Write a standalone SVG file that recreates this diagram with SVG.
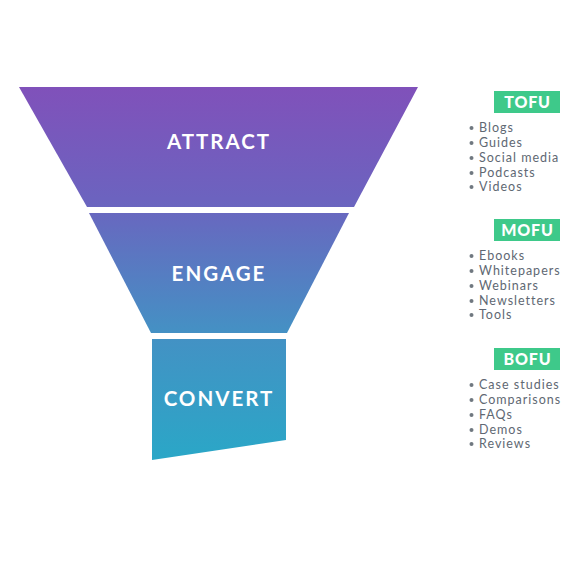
<svg xmlns="http://www.w3.org/2000/svg" width="580" height="579" viewBox="0 0 580 579">
<defs>
<linearGradient id="g" gradientUnits="userSpaceOnUse" x1="0" y1="87" x2="0" y2="460">
<stop offset="0" stop-color="#8051ba"/>
<stop offset="0.3" stop-color="#6c63bf"/>
<stop offset="0.65" stop-color="#4590c4"/>
<stop offset="1" stop-color="#2aa7c7"/>
</linearGradient>
<style>
.stage{fill:url(#g)}
.st{font-family:Lato,"Open Sans",sans-serif;font-weight:700;font-size:20.5px;fill:#fff;letter-spacing:2px;text-anchor:middle}
.tag{fill:#3ec98a}
.tt{font-family:Lato,"Open Sans",sans-serif;font-weight:900;font-size:16px;fill:#fff;text-anchor:middle;letter-spacing:0.8px}
.it{font-family:Lato,"Open Sans",sans-serif;font-size:12.5px;fill:#606873;letter-spacing:1px}
.b{fill:#707880}
</style>
</defs>
<rect width="580" height="579" fill="#fff"/>
<g id="attract"><polygon class="stage" points="19,87 418,87 354,207 87,207"/><text class="st" x="219" y="149">ATTRACT</text></g>
<g id="engage"><polygon class="stage" points="89,213 349,213 287,333 151,333"/><text class="st" x="219" y="281">ENGAGE</text></g>
<g id="convert"><polygon class="stage" points="152,339 286,339 286,440 152,460"/><text class="st" x="219" y="406">CONVERT</text></g>
<g id="connectors"/>
<g id="tofu">
<rect class="tag" x="494" y="91" width="66" height="22"/><text class="tt" x="527.5" y="108">TOFU</text>
<circle class="b" cx="471.5" cy="128" r="2"/><text class="it" x="479" y="132">Blogs</text>
<circle class="b" cx="471.5" cy="143" r="2"/><text class="it" x="479" y="147">Guides</text>
<circle class="b" cx="471.5" cy="158" r="2"/><text class="it" x="479" y="162">Social media</text>
<circle class="b" cx="471.5" cy="173" r="2"/><text class="it" x="479" y="177">Podcasts</text>
<circle class="b" cx="471.5" cy="187" r="2"/><text class="it" x="479" y="191">Videos</text>
</g>
<g id="mofu">
<rect class="tag" x="494" y="219" width="66" height="22"/><text class="tt" x="527.5" y="236">MOFU</text>
<circle class="b" cx="471.5" cy="256" r="2"/><text class="it" x="479" y="260">Ebooks</text>
<circle class="b" cx="471.5" cy="271" r="2"/><text class="it" x="479" y="275">Whitepapers</text>
<circle class="b" cx="471.5" cy="286" r="2"/><text class="it" x="479" y="290">Webinars</text>
<circle class="b" cx="471.5" cy="301" r="2"/><text class="it" x="479" y="305">Newsletters</text>
<circle class="b" cx="471.5" cy="315" r="2"/><text class="it" x="479" y="319">Tools</text>
</g>
<g id="bofu">
<rect class="tag" x="494" y="348" width="66" height="22"/><text class="tt" x="527.5" y="365">BOFU</text>
<circle class="b" cx="471.5" cy="385" r="2"/><text class="it" x="479" y="389">Case studies</text>
<circle class="b" cx="471.5" cy="400" r="2"/><text class="it" x="479" y="404">Comparisons</text>
<circle class="b" cx="471.5" cy="415" r="2"/><text class="it" x="479" y="419">FAQs</text>
<circle class="b" cx="471.5" cy="430" r="2"/><text class="it" x="479" y="434">Demos</text>
<circle class="b" cx="471.5" cy="444" r="2"/><text class="it" x="479" y="448">Reviews</text>
</g>
</svg>
